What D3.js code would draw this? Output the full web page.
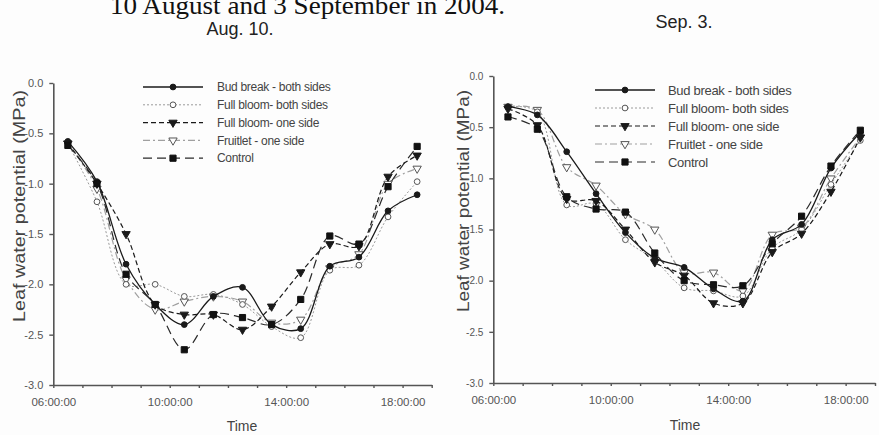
<!DOCTYPE html>
<html>
<head>
<meta charset="utf-8">
<script src="https://cdn.jsdelivr.net/npm/d3@7"></script>
<style>
  body { margin: 0; background: #fdfdfd; }
  svg { display: block; }
</style>
</head>
<body>
<svg width="879" height="435"></svg>
<script>
// measurement times (hours)
var times = [6.5, 7.5, 8.5, 9.5, 10.5, 11.5, 12.5, 13.5, 14.5, 15.5, 16.5, 17.5, 18.5];
var seriesNames = ["Bud break - both sides", "Full bloom- both sides", "Full bloom- one side", "Fruitlet - one side", "Control"];
var yTicks = [0, -0.5, -1, -1.5, -2, -2.5, -3];
var xTickLabels = ["06:00:00", "10:00:00", "14:00:00", "18:00:00"];

// Aug. 10
var budAug     = [-0.58, -0.98, -1.80, -2.20, -2.40, -2.12, -2.03, -2.40, -2.44, -1.82, -1.73, -1.27, -1.11];
var fbBothAug  = [-0.60, -1.18, -2.00, -2.00, -2.12, -2.10, -2.20, -2.42, -2.53, -1.86, -1.81, -1.33, -0.98];
var fbOneAug   = [-0.60, -1.00, -1.50, -2.20, -2.30, -2.30, -2.45, -2.22, -1.88, -1.60, -1.62, -0.93, -0.72];
var fruitAug   = [-0.60, -1.05, -1.95, -2.25, -2.17, -2.12, -2.17, -2.38, -2.35, -1.84, -1.70, -1.00, -0.85];
var controlAug = [-0.62, -1.00, -1.90, -2.20, -2.65, -2.30, -2.33, -2.40, -2.15, -1.52, -1.60, -1.03, -0.63];

// Sep. 3
var budSep     = [-0.30, -0.38, -0.74, -1.15, -1.53, -1.78, -1.87, -2.08, -2.20, -1.60, -1.45, -0.90, -0.55];
var fbBothSep  = [-0.30, -0.35, -1.26, -1.25, -1.60, -1.80, -2.07, -2.10, -2.15, -1.68, -1.50, -1.06, -0.63];
var fbOneSep   = [-0.32, -0.48, -1.20, -1.22, -1.50, -1.82, -1.95, -2.22, -2.22, -1.72, -1.54, -1.13, -0.60];
var fruitSep   = [-0.30, -0.33, -0.89, -1.07, -1.35, -1.50, -1.92, -1.92, -2.10, -1.55, -1.48, -1.00, -0.60];
var controlSep = [-0.40, -0.52, -1.18, -1.30, -1.33, -1.73, -2.00, -2.04, -2.05, -1.64, -1.37, -0.88, -0.53];

// line + marker look for each series
var styles = [
    { stroke: "#1a1a1a", width: 1.3, dash: null,    symbol: d3.symbolCircle,   size: 26, fill: "#1a1a1a", rot: 0 },
    { stroke: "#9a9a9a", width: 1,   dash: "2,2",   symbol: d3.symbolCircle,   size: 26, fill: "#fdfdfd", rot: 0 },
    { stroke: "#1a1a1a", width: 1.2, dash: "5,3",   symbol: d3.symbolTriangle, size: 30, fill: "#1a1a1a", rot: 180 },
    { stroke: "#a0a0a0", width: 1.2, dash: "7,3,2,3", symbol: d3.symbolTriangle, size: 30, fill: "#fdfdfd", rot: 180 },
    { stroke: "#2a2a2a", width: 1.2, dash: "9,5",   symbol: d3.symbolSquare,   size: 38, fill: "#111", rot: 0 }
];

var svg = d3.select("svg");

// caption line, cut at the top of the scan
svg.append("text")
    .attr("x", 110).attr("y", 14)
    .attr("font-family", "Liberation Serif, serif")
    .attr("font-size", "26px")
    .attr("fill", "#111")
    .attr("textLength", 395)
    .attr("lengthAdjust", "spacingAndGlyphs")
    .text("10 August and 3 September in 2004.");

function drawPanel(p, values) {
    var xScale = d3.scaleLinear().domain([6, 19]).range([p.x0, p.x1]);
    var yScale = d3.scaleLinear().domain([-3, 0]).range([p.yBottom, p.yTop]);
    var g = svg.append("g");

    // title
    g.append("text")
        .attr("x", p.titleX).attr("y", p.titleY)
        .attr("text-anchor", "middle")
        .attr("font-family", "Liberation Sans, Arial, sans-serif")
        .attr("font-size", "18px")
        .attr("fill", "#222")
        .text(p.title);

    // axis titles (drawn first, tick labels sit on top)
    g.append("text")
        .attr("transform", "translate(" + p.yLabelX + "," + p.yLabelY + ") rotate(-90)")
        .attr("text-anchor", "middle")
        .attr("font-family", "Liberation Sans, Arial, sans-serif")
        .attr("font-size", "16px")
        .attr("fill", "#444")
        .attr("textLength", p.yLabelLen)
        .attr("lengthAdjust", "spacingAndGlyphs")
        .text("Leaf water potential (MPa)");
    g.append("text")
        .attr("x", p.timeX).attr("y", p.timeY)
        .attr("text-anchor", "middle")
        .attr("font-family", "Liberation Sans, Arial, sans-serif")
        .attr("font-size", "14px")
        .attr("fill", "#444")
        .text("Time");

    // y axis
    var yAxis = g.append("g")
        .attr("transform", "translate(" + p.x0 + ",0)")
        .call(d3.axisLeft(yScale).tickValues(yTicks)
            .tickFormat(function(d) { return d.toFixed(1); })
            .tickSize(4).tickSizeOuter(0).tickPadding(6));
    // x axis, hourly ticks, labels every 4 h
    var xAxis = g.append("g")
        .attr("transform", "translate(0," + p.yBottom + ")")
        .call(d3.axisBottom(xScale).tickValues(d3.range(6, 20, 1))
            .tickFormat(function(d) { return (d - 6) % 4 === 0 ? xTickLabels[(d - 6) / 4] : ""; })
            .tickSize(3).tickSizeOuter(0).tickPadding(10));

    [yAxis, xAxis].forEach(function(a) {
        a.select(".domain").attr("stroke", "#555").attr("stroke-width", 1.6);
        a.selectAll(".tick line").attr("stroke", "#555").attr("stroke-width", 1.4);
        a.selectAll("text")
            .attr("font-family", "Liberation Sans, Arial, sans-serif")
            .attr("fill", "#555");
    });
    xAxis.selectAll("text").attr("font-size", "11.5px");
    yAxis.selectAll("text").attr("font-size", p.yTickFont);

    var line = d3.line()
        .x(function(d) { return xScale(d.t); })
        .y(function(d) { return yScale(d.v); })
        .curve(d3.curveCatmullRom.alpha(0.5));

    // series, drawn from back (light) to front
    [3, 1, 0, 2, 4].forEach(function(i) {
        var s = styles[i];
        var pts = times.map(function(t, k) { return { t: t, v: values[i][k] }; });
        g.append("path")
            .datum(pts)
            .attr("d", line)
            .attr("fill", "none")
            .attr("stroke", s.stroke)
            .attr("stroke-width", s.width)
            .attr("stroke-dasharray", s.dash);
        g.selectAll(".m" + i)
            .data(pts)
            .enter().append("path")
            .attr("class", "m" + i)
            .attr("d", d3.symbol().type(s.symbol).size(s.size))
            .attr("transform", function(d) {
                return "translate(" + xScale(d.t) + "," + yScale(d.v) + ") rotate(" + s.rot + ")";
            })
            .attr("fill", s.fill)
            .attr("stroke", s.fill === "#fdfdfd" ? "#555" : s.fill)
            .attr("stroke-width", 1);
    });

    // legend
    seriesNames.forEach(function(name, i) {
        var s = styles[i];
        var ly = p.legY + i * p.legStep;
        g.append("line")
            .attr("x1", p.legX0).attr("x2", p.legX1)
            .attr("y1", ly).attr("y2", ly)
            .attr("stroke", s.stroke)
            .attr("stroke-width", s.width)
            .attr("stroke-dasharray", s.dash);
        g.append("path")
            .attr("d", d3.symbol().type(s.symbol).size(s.size))
            .attr("transform", "translate(" + ((p.legX0 + p.legX1) / 2) + "," + ly + ") rotate(" + s.rot + ")")
            .attr("fill", s.fill)
            .attr("stroke", s.fill === "#fdfdfd" ? "#555" : s.fill);
        g.append("text")
            .attr("x", p.legTextX).attr("y", ly)
            .attr("dy", "0.35em")
            .attr("font-family", "Liberation Sans, Arial, sans-serif")
            .attr("font-size", p.legFont)
            .attr("letter-spacing", "-0.3px")
            .attr("fill", "#444")
            .text(name);
    });
}

drawPanel({
    x0: 53.3, x1: 431.7, yTop: 83, yBottom: 385,
    title: "Aug. 10.", titleX: 240, titleY: 35,
    yLabelX: 25, yLabelY: 206, yLabelLen: 232, yTickFont: "11px",
    timeX: 242, timeY: 431,
    legX0: 143, legX1: 203, legY: 87, legStep: 17.8, legTextX: 217, legFont: "12px"
}, [budAug, fbBothAug, fbOneAug, fruitAug, controlAug]);

drawPanel({
    x0: 493.3, x1: 875, yTop: 76, yBottom: 383,
    title: "Sep. 3.", titleX: 684, titleY: 28,
    yLabelX: 469, yLabelY: 201, yLabelLen: 222, yTickFont: "10px",
    timeX: 685, timeY: 430,
    legX0: 595, legX1: 655, legY: 90, legStep: 18, legTextX: 668, legFont: "13px"
}, [budSep, fbBothSep, fbOneSep, fruitSep, controlSep]);
</script>
</body>
</html>
